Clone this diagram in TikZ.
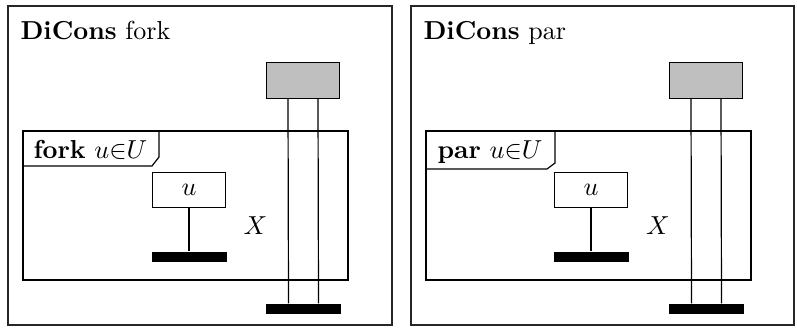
\documentclass[tikz,border=0pt]{standalone}
\begin{document}
\begin{tikzpicture}[x=1pt,y=-1pt,line width=1.2pt,
  outer/.style={draw=black!85,line width=1.2pt},
  greybox/.style={draw,fill=black!25,minimum width=73pt,minimum height=36pt,inner sep=0pt},
  barbox/.style={fill=black,minimum width=75pt,minimum height=10pt,inner sep=0pt},
  ubox/.style={draw,minimum width=73pt,minimum height=35pt,inner sep=0pt},
  txt/.style={scale=2.6,inner sep=0pt}]
\useasboundingbox (0,0) rectangle (797,327);
% left panel
\draw[outer] (8,6) rectangle (392,325);
\node[txt,anchor=base west] (t1) at (19,39) {\textbf{DiCons} fork};
\node[greybox] (g1) at (303,80.5) {};
\node[barbox] (b1) at (303.5,309) {};
\draw ([xshift=-15pt]g1.south) -- ([xshift=-15pt]b1.north);
\draw ([xshift=15pt]g1.south) -- ([xshift=15pt]b1.north);
\draw (23,131) rectangle (348,280);
\draw (23,166) -- (152,166) -- (159,157) -- (159,131);
\node[txt,anchor=base west] (f1) at (32,158) {\textbf{fork} $u{\in}U$};
\node[ubox] (u1) at (189,190) {\scalebox{2.6}{$u$}};
\node[barbox] (ub1) at (189,257) {};
\draw (u1) -- (ub1);
\node[txt] (x1) at (255.5,226) {$X$};
% right panel
\begin{scope}[xshift=403pt]
\draw[outer] (8,6) rectangle (391,325);
\node[txt,anchor=base west] (t2) at (19,39) {\textbf{DiCons} par};
\node[greybox] (g2) at (303,80.5) {};
\node[barbox] (b2) at (303.5,309) {};
\draw ([xshift=-15pt]g2.south) -- ([xshift=-15pt]b2.north);
\draw ([xshift=15pt]g2.south) -- ([xshift=15pt]b2.north);
\draw (23,131) rectangle (348,280);
\draw (23,169) -- (144,169) -- (152,163) -- (152,131);
\node[txt,anchor=base west] (f2) at (33,158) {\textbf{par} $u{\in}U$};
\node[ubox] (u2) at (188,190) {\scalebox{2.6}{$u$}};
\node[barbox] (ub2) at (188,257) {};
\draw (u2) -- (ub2);
\node[txt] (x2) at (255,226) {$X$};
\end{scope}
\end{tikzpicture}
\end{document}
